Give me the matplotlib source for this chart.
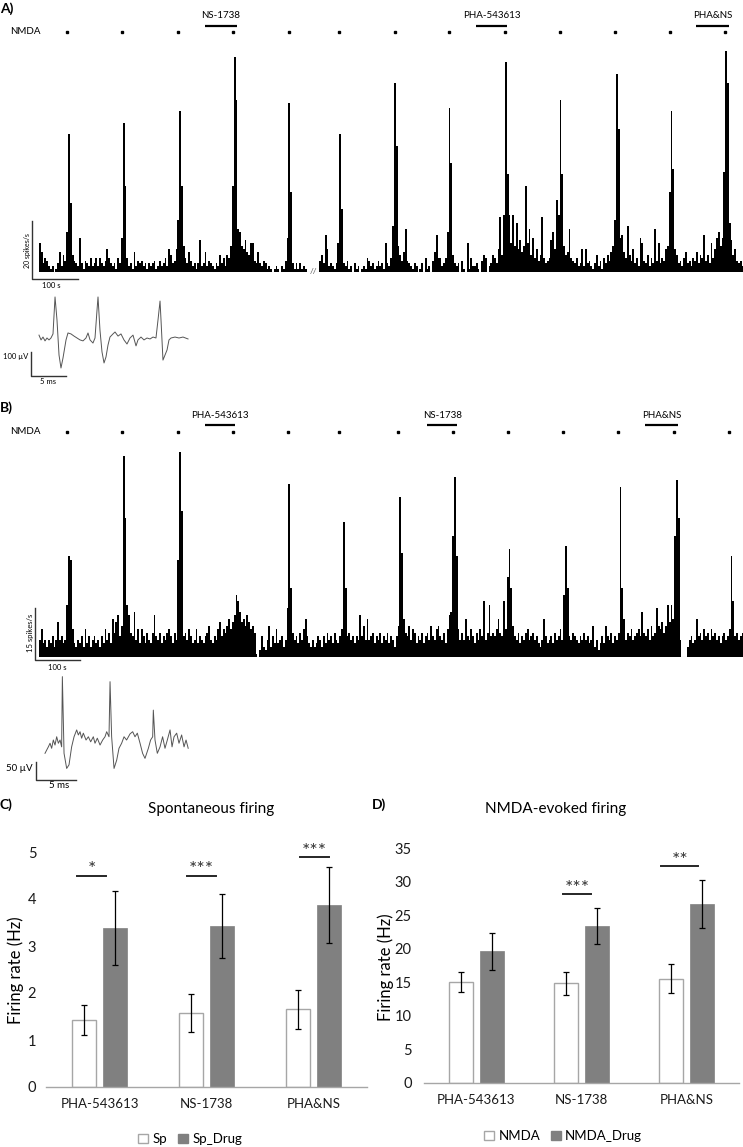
import numpy as np
import matplotlib
matplotlib.use('Agg')
import matplotlib.pyplot as plt
from matplotlib.patches import Patch

plt.rcParams['font.family'] = ['Lato', 'DejaVu Sans']

W, H = 743, 1147
BIN_S = 4.0  # histogram bin width (s)

# ---------------- DATA ----------------
# Panel A firing-rate histogram: spikes/s per 4-s bin, one base-36 digit per bin
a_rate = ("a735421201" "37264ekk64" "32c3143252" "3525324853" "23153ckk52"
          "3172434231" "3234124235" "286348ikk9" "53742313b2" "3724321326"
          "352659ukkf" "e98b76aa43" "7324312101" "210214ckk3" "1313121000"
          "0000463d82" "3213akk324" "1203120121" "5423124231" "a325gkk964"
          "7f43213201" "30512047d5" "5235ekk632" "30410a1522" "3104650236"
          "538j6kkkka" "k9h8b79uaf" "6c5846j534" "5be8pkkk96" "7f54352382"
          "8342136241" "536479ikkc" "d75g648352" "ca436253f4" "a35489skk8"
          "6342573425" "47365d463a" "58ce9czkkh" "b684342")
a_peak_t = [64, 185, 308, 431, 549, 662, 782, 903, 1024, 1147, 1268, 1389, 1510]
a_peak_h = [48, 52, 56, 75, 59, 48, 66, 57, 73, 60, 69, 56, 77]
a_peak_h2 = [24, 30, 30, 60, 28, 22, 44, 38, 34, 34, 50, 36, 66]
a_nmda_t = [61, 182, 305, 426, 549, 659, 782, 901, 1024, 1145, 1266, 1387, 1508]
a_drug_names = ['NS-1738', 'PHA-543613', 'PHA&NS']
a_drug_on = [365, 960, 1444]
a_drug_off = [435, 1029, 1516]

# Panel B firing-rate histogram
b_rate = ("5845354635" "a5645fkk84" "3546384635" "6453648574" "b7ac69kkfc"
          "76d5848647" "547c657465" "786475skk6" "7586458465" "467954658a"
          "6879b8acig" "dab9ca8971" "0263259364" "845635ekk7" "564758b643"
          "5346536475" "6475468kk6" "756465c695" "b567465746" "57465369ka"
          "b769587465" "7467596589" "65748cdzkk" "8575b65864" "7586g57f67"
          "68b76g8nkk" "9657465785" "6756435b64" "56475685ik" "k657654657"
          "5645935246" "496574657k" "kb57685678" "6d7685967e" "98a79fafbz"
          "km50003564" "5b67586758" "6756467568" "kf67567")
b_peak_t = [64, 187, 308, 435, 549, 670, 793, 914, 1035, 1156, 1277, 1402, 1521]
b_peak_h = [29, 58, 59, 18, 50, 39, 46, 52, 31, 32, 49, 51, 29]
b_peak_h2 = [28, 40, 42, 16, 20, 15, 30, 29, 20, 18, 20, 40, 16]
b_nmda_t = [61, 182, 305, 426, 547, 659, 789, 910, 1031, 1152, 1273, 1396, 1516]
b_drug_names = ['PHA-543613', 'NS-1738', 'PHA&NS']
b_drug_on = [365, 853, 1332]
b_drug_off = [431, 919, 1404]

# Spike waveform insets (time ms, voltage uV)
wa_t = [0, 0.29, 0.57, 0.86, 1.14, 1.43, 1.71, 2.0, 2.29, 2.57, 2.86, 3.14, 3.43, 3.86,
        4.14, 4.57, 5.0, 5.43, 5.86, 6.29, 6.71, 7.0, 7.29, 7.71, 8.0, 8.29, 8.43, 8.71,
        9.0, 9.29, 9.57, 9.86, 10.14, 10.57, 10.86, 11.29, 11.71, 12.14, 12.57, 13.0,
        13.43, 13.86, 14.14, 14.57, 15.0, 15.43, 15.86, 16.29, 16.71, 17.0, 17.29, 17.43,
        17.71, 18.0, 18.29, 18.57, 18.86, 19.43, 20.0, 20.57, 21.29]
wa_v = [12, -8, 4, -12, 0, -8, 0, 17, 171, 75, -71, -125, -83, -8,
        21, 17, 8, 0, -8, -12, 0, 21, -8, -21, 0, 117, 171, 33,
        -58, -104, -79, -29, 4, 17, 25, 8, 17, -8, -25, 0,
        12, -33, -8, 4, -8, 0, -4, 4, 0, 75, 154, 75,
        -92, -71, -50, -8, 0, 4, 0, 4, -4]
wb_t = [0, 0.42, 0.63, 0.83, 1.04, 1.25, 1.46, 1.67, 1.88, 2.08, 2.17, 2.38, 2.71, 3.0,
        3.33, 3.63, 3.96, 4.17, 4.38, 4.58, 4.79, 5.13, 5.42, 5.71, 6.04, 6.25, 6.54,
        6.88, 7.21, 7.5, 7.71, 8.0, 8.13, 8.33, 8.63, 8.96, 9.25, 9.58, 9.88, 10.2,
        10.63, 10.96, 11.25, 11.54, 11.88, 12.2, 12.5, 12.92, 13.2, 13.46, 13.54, 13.75,
        14.04, 14.38, 14.7, 15.0, 15.29, 15.63, 15.88, 16.13, 16.46, 16.75, 17.08,
        17.38, 17.63, 17.9]
wb_v = [-37, -19, -9, -23, 0, -14, 9, -9, 0, -19, 176, -37, -79, -69,
        -19, 9, 28, 14, 23, 5, 19, 0, 9, -5, 9, -9, 5,
        -14, 0, 9, 23, 9, 162, 9, -79, -56, -23, -9, 9, 0,
        17, 23, 9, 19, -9, -37, -51, -23, 0, 9, 83, 0,
        -37, -19, 9, -23, 0, 28, -19, 9, 19, -9, 14,
        -19, 0, -23]

# Bar charts
categories = ['PHA-543613', 'NS-1738', 'PHA&NS']
sp = [1.43, 1.58, 1.65]
sp_err = [0.32, 0.40, 0.41]
sp_drug = [3.38, 3.42, 3.87]
sp_drug_err = [0.79, 0.68, 0.81]
nmda = [15.1, 14.85, 15.55]
nmda_err = [1.5, 1.75, 2.15]
nmda_drug = [19.6, 23.35, 26.65]
nmda_drug_err = [2.75, 2.65, 3.6]
sig_c = ['*', '***', '***']
sig_d = ['', '***', '**']

# ---------------- LAYOUT ----------------
fig = plt.figure(figsize=(W / 100, H / 100), dpi=100)
ov = fig.add_axes([0, 0, 1, 1])
ov.set_xlim(0, W)
ov.set_ylim(H, 0)
ov.axis('off')


def px_axes(x0, y0, x1, y1):
    return fig.add_axes([x0 / W, 1 - y1 / H, (x1 - x0) / W, (y1 - y0) / H])


def decode(s):
    return np.array([int(c, 36) for c in s], dtype=float)


def draw_trace(ax, rate, pt, ph, ph2):
    vals = decode(rate)
    for t, h, h2 in zip(pt, ph, ph2):
        b = int(t // BIN_S)
        vals[b] = max(vals[b], h)
        vals[b + 1] = max(vals[b + 1], h2)
    edges = np.arange(len(vals) + 1) * BIN_S
    ax.axhline(0, color='#a0a0a0', lw=0.8, zorder=1)
    ax.stairs(vals, edges, fill=True, color='black', linewidth=0, zorder=2)


def draw_header(ax, nmda_t, y_dot, names, on, off, y_bar, y_lab):
    ax.plot(nmda_t, [y_dot] * len(nmda_t), ls='none', marker='s', ms=2.0,
            color='black', clip_on=False)
    for n, a, b in zip(names, on, off):
        ax.plot([a, b], [y_bar, y_bar], color='black', lw=1.6, clip_on=False,
                solid_capstyle='butt')
        ax.text((a + b) / 2, y_lab, n, ha='center', va='center', fontsize=7)


# ---- Panel A ----
axA = px_axes(39, 5, 743, 272)
axA.set_xlim(0, 704 / 0.455)
axA.set_ylim(0, 267 / 2.87)
axA.axis('off')
draw_trace(axA, a_rate, a_peak_t, a_peak_h, a_peak_h2)
draw_header(axA, a_nmda_t, 83.6, a_drug_names, a_drug_on, a_drug_off, 85.8, 89.3)
axA.plot([-15, -15, 85], [17.6, -2.4, -2.4], color='#333333', lw=1, clip_on=False)
axA.text(-25, 7.6, '20 spikes/s', rotation=90, ha='center', va='center', fontsize=5)
axA.text(26, -4.6, '100 s', ha='center', va='center', fontsize=5.5)
ov.text(10, 32, 'NMDA', ha='left', va='center', fontsize=7)
ov.text(313, 272, '//', ha='center', va='center', fontsize=6, color='#555555')
ov.text(0, 9, 'A)', ha='left', va='center', fontsize=10, fontweight='bold')

# ---- waveform A ----
wA = px_axes(20, 285, 200, 385)
wA.set_xlim(-19 / 7, 161 / 7)
wA.set_ylim(-47 / 0.24, 53 / 0.24)
wA.axis('off')
wA.plot(wa_t, wa_v, color='#555555', lw=0.7)
wA.plot([-1.143, -1.143, 3.857], [-58.3, -158.3, -158.3], color='#333333', lw=1)
wA.text(-1.5, -79, '100 µV', ha='right', va='center', fontsize=5.5)
wA.text(1.3, -180, '5 ms', ha='center', va='center', fontsize=5.5)

# ---- Panel B ----
axB = px_axes(39, 400, 743, 657)
axB.set_xlim(0, 704 / 0.455)
axB.set_ylim(0, 257 / 3.47)
axB.axis('off')
draw_trace(axB, b_rate, b_peak_t, b_peak_h, b_peak_h2)
draw_header(axB, b_nmda_t, 64.8, b_drug_names, b_drug_on, b_drug_off, 66.9, 69.6)
axB.plot([-8.8, -8.8, 91.2], [14.1, -0.9, -0.9], color='#333333', lw=1, clip_on=False)
axB.text(-19, 6.9, '15 spikes/s', rotation=90, ha='center', va='center', fontsize=5.5)
axB.text(40, -2.9, '100 s', ha='center', va='center', fontsize=5.5)
ov.text(10, 432, 'NMDA', ha='left', va='center', fontsize=7)
ov.text(0, 408, 'B)', ha='left', va='center', fontsize=10, fontweight='bold')

# ---- waveform B ----
wB = px_axes(20, 665, 200, 795)
wB.set_xlim(-25 / 8, 155 / 8)
wB.set_ylim(-55 / 0.36, 75 / 0.36)
wB.axis('off')
wB.plot(wb_t, wb_v, color='#555555', lw=0.7)
wB.plot([-1.125, -1.125, 3.875], [-61.1, -111.1, -111.1], color='#333333', lw=1)
wB.text(-1.5, -77.8, '50 µV', ha='right', va='center', fontsize=7)
wB.text(1.75, -125, '5 ms', ha='center', va='center', fontsize=7)


# ---- bar charts ----
def bar_panel(ax, v1, e1, v2, e2, ymax, yticks, sig, sig_lines, lab_pad):
    x = np.arange(len(categories))
    ax.bar(x - 0.145, v1, 0.23, color='white', edgecolor='#a6a6a6', lw=1, zorder=2)
    ax.bar(x + 0.145, v2, 0.23, color='#808080', edgecolor='#808080', lw=0.5, zorder=2)
    ax.errorbar(x - 0.145, v1, yerr=e1, fmt='none', ecolor='black', elinewidth=0.9,
                capsize=2.3, capthick=0.9, zorder=3)
    ax.errorbar(x + 0.145, v2, yerr=e2, fmt='none', ecolor='black', elinewidth=0.9,
                capsize=2.3, capthick=0.9, zorder=3)
    ax.set_xlim(-0.5, len(categories) - 0.5)
    ax.set_ylim(0, ymax)
    ax.set_yticks(yticks)
    ax.set_xticks(x)
    ax.set_xticklabels(categories)
    for s in ['top', 'right', 'left']:
        ax.spines[s].set_visible(False)
    ax.spines['bottom'].set_color('#a6a6a6')
    ax.spines['bottom'].set_linewidth(1)
    ax.tick_params(axis='y', length=0, pad=lab_pad, labelsize=10.5, labelcolor='#1a1a1a')
    ax.tick_params(axis='x', length=0, pad=8, labelsize=9.5, labelcolor='#1a1a1a')
    for i, (s, ln) in enumerate(zip(sig, sig_lines)):
        if not s:
            continue
        x0, x1, y, ys = ln
        ax.plot([i + x0, i + x1], [y, y], color='#262626', lw=1.4, clip_on=False)
        ax.text(i + (x0 + x1) / 2, ys, s, ha='center', va='center', fontsize=14,
                color='#333333', clip_on=False)


axC = px_axes(46, 852, 367, 1087)
bar_panel(axC, sp, sp_err, sp_drug, sp_drug_err, 5, range(0, 6), sig_c,
          [(-0.21, 0.06, 4.5, 4.62), (-0.18, 0.09, 4.5, 4.62), (-0.13, 0.145, 4.9, 5.02)], 7)
ov.text(15.5, 970, 'Firing rate (Hz)', rotation=90, ha='center', va='center', fontsize=12)
ov.text(211, 809, 'Spontaneous firing', ha='center', va='center', fontsize=11)
ov.text(0, 805, 'C)', ha='left', va='center', fontsize=10, fontweight='bold')
fig.legend(handles=[Patch(facecolor='white', edgecolor='#a6a6a6', label='Sp'),
                    Patch(facecolor='#808080', edgecolor='#808080', label='Sp_Drug')],
           loc='center', bbox_to_anchor=(190 / W, 1 - 1139 / H), ncol=2, frameon=False,
           fontsize=9.5, handlelength=0.75, handleheight=0.75, handletextpad=0.35,
           columnspacing=0.8)

axD = px_axes(424, 848, 739, 1083)
bar_panel(axD, nmda, nmda_err, nmda_drug, nmda_drug_err, 35, range(0, 36, 5), sig_d,
          [None, (-0.176, 0.09, 28.1, 28.9), (-0.243, 0.114, 32.3, 33.1)], 9)
ov.text(385.5, 967, 'Firing rate (Hz)', rotation=90, ha='center', va='center', fontsize=12)
ov.text(556, 809, 'NMDA-evoked firing', ha='center', va='center', fontsize=11)
ov.text(372, 805, 'D)', ha='left', va='center', fontsize=10, fontweight='bold')
fig.legend(handles=[Patch(facecolor='white', edgecolor='#a6a6a6', label='NMDA'),
                    Patch(facecolor='#808080', edgecolor='#808080', label='NMDA_Drug')],
           loc='center', bbox_to_anchor=(563 / W, 1 - 1136 / H), ncol=2, frameon=False,
           fontsize=9.5, handlelength=0.75, handleheight=0.75, handletextpad=0.35,
           columnspacing=0.8)

fig.savefig('out.png', dpi=100)
